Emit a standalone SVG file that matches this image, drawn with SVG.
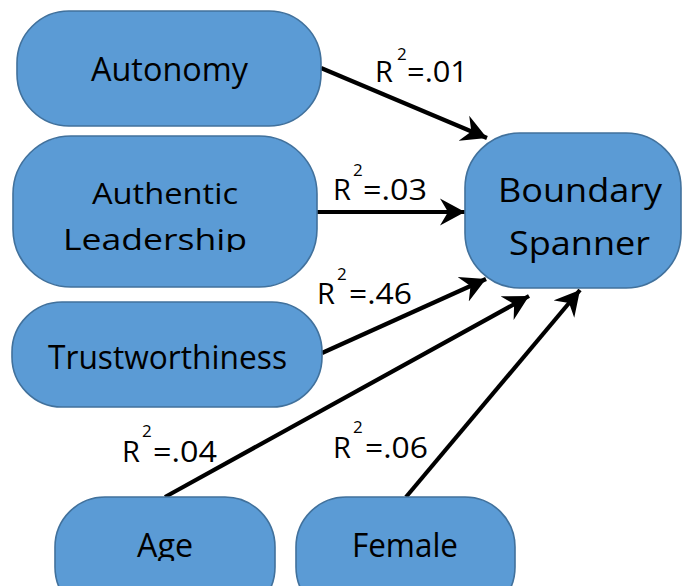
<svg xmlns="http://www.w3.org/2000/svg" width="682" height="586" viewBox="0 0 682 586">
  <style>
    .node { fill: #5B9BD5; stroke: #41719C; stroke-width: 1.6; }
    .ntxt { font-family: "Open Sans", "Liberation Sans", sans-serif; font-size: 33px; fill: #000; }
    .ntxt2 { font-family: "Open Sans", "Liberation Sans", sans-serif; font-size: 30px; fill: #000; }
    .lbl { font-family: "Open Sans", "Liberation Sans", sans-serif; font-size: 29px; fill: #000; }
    .sup { font-family: "Open Sans", "Liberation Sans", sans-serif; font-size: 17px; fill: #000; }
    .edge { stroke: #000; stroke-width: 4.2; fill: none; marker-end: url(#head); }
  </style>
  <defs>
    <!-- notched arrowhead shared by all paths -->
    <marker id="head" viewBox="0 0 27 28" refX="25" refY="14" markerWidth="27" markerHeight="28" markerUnits="userSpaceOnUse" orient="auto">
      <polygon points="25,14 0,0.5 8,14 0,27.5" fill="#000"/>
    </marker>
    <clipPath id="clipLead"><rect x="0" y="0" width="682" height="252"/></clipPath>
    <clipPath id="clipBottom"><rect x="0" y="0" width="682" height="561"/></clipPath>
  </defs>

  <rect width="682" height="586" fill="#fff"/>

  <!-- connectors -->
  <g id="connectors">
    <line class="edge" x1="321" y1="68" x2="487" y2="138"/>
    <line class="edge" x1="317" y1="212" x2="465" y2="212"/>
    <line class="edge" x1="322" y1="353" x2="486" y2="279"/>
    <line class="edge" x1="165" y1="497" x2="529" y2="296"/>
    <line class="edge" x1="406" y1="497" x2="580" y2="290"/>
  </g>

  <!-- path labels -->
  <g id="labels">
    <text class="lbl" x="375" y="82">R</text><text class="sup" x="397" y="60">2</text><text class="lbl" x="407" y="82" textLength="61" lengthAdjust="spacingAndGlyphs">=.01</text>
    <text class="lbl" x="333" y="200">R</text><text class="sup" x="353" y="176">2</text><text class="lbl" x="363" y="200" textLength="64" lengthAdjust="spacingAndGlyphs">=.03</text>
    <text class="lbl" x="317" y="304">R</text><text class="sup" x="337" y="280">2</text><text class="lbl" x="349" y="304" textLength="63" lengthAdjust="spacingAndGlyphs">=.46</text>
    <text class="lbl" x="122" y="462">R</text><text class="sup" x="142" y="437">2</text><text class="lbl" x="153" y="462" textLength="64" lengthAdjust="spacingAndGlyphs">=.04</text>
    <text class="lbl" x="333" y="458">R</text><text class="sup" x="353" y="433">2</text><text class="lbl" x="365" y="458" textLength="63" lengthAdjust="spacingAndGlyphs">=.06</text>
  </g>

  <g id="autonomy">
    <rect class="node" x="17" y="11" width="304" height="115" rx="52" ry="52"/>
    <text class="ntxt" x="91" y="81" textLength="157" lengthAdjust="spacingAndGlyphs">Autonomy</text>
  </g>

  <g id="authentic-leadership">
    <rect class="node" x="13" y="136" width="304" height="151" rx="58" ry="58"/>
    <g clip-path="url(#clipLead)">
      <text class="ntxt2" x="92" y="204" textLength="146" lengthAdjust="spacingAndGlyphs">Authentic</text>
      <text class="ntxt2" x="63" y="250" textLength="184" lengthAdjust="spacingAndGlyphs">Leadership</text>
    </g>
  </g>

  <g id="trustworthiness">
    <rect class="node" x="12" y="302" width="310" height="105" rx="50" ry="50"/>
    <text class="ntxt" x="48" y="369" textLength="239" lengthAdjust="spacingAndGlyphs">Trustworthiness</text>
  </g>

  <g id="boundary-spanner">
    <rect class="node" x="465" y="133" width="216" height="155" rx="55" ry="55"/>
    <text class="ntxt" x="498" y="202" textLength="164" lengthAdjust="spacingAndGlyphs">Boundary</text>
    <text class="ntxt" x="509" y="255" textLength="141" lengthAdjust="spacingAndGlyphs">Spanner</text>
  </g>

  <g id="age">
    <rect class="node" x="55" y="497" width="220" height="120" rx="50" ry="50"/>
    <text class="ntxt" x="137" y="557" textLength="56" lengthAdjust="spacingAndGlyphs" clip-path="url(#clipBottom)">Age</text>
  </g>

  <g id="female">
    <rect class="node" x="296" y="497" width="219" height="120" rx="50" ry="50"/>
    <text class="ntxt" x="352" y="557" textLength="106" lengthAdjust="spacingAndGlyphs" clip-path="url(#clipBottom)">Female</text>
  </g>
</svg>
